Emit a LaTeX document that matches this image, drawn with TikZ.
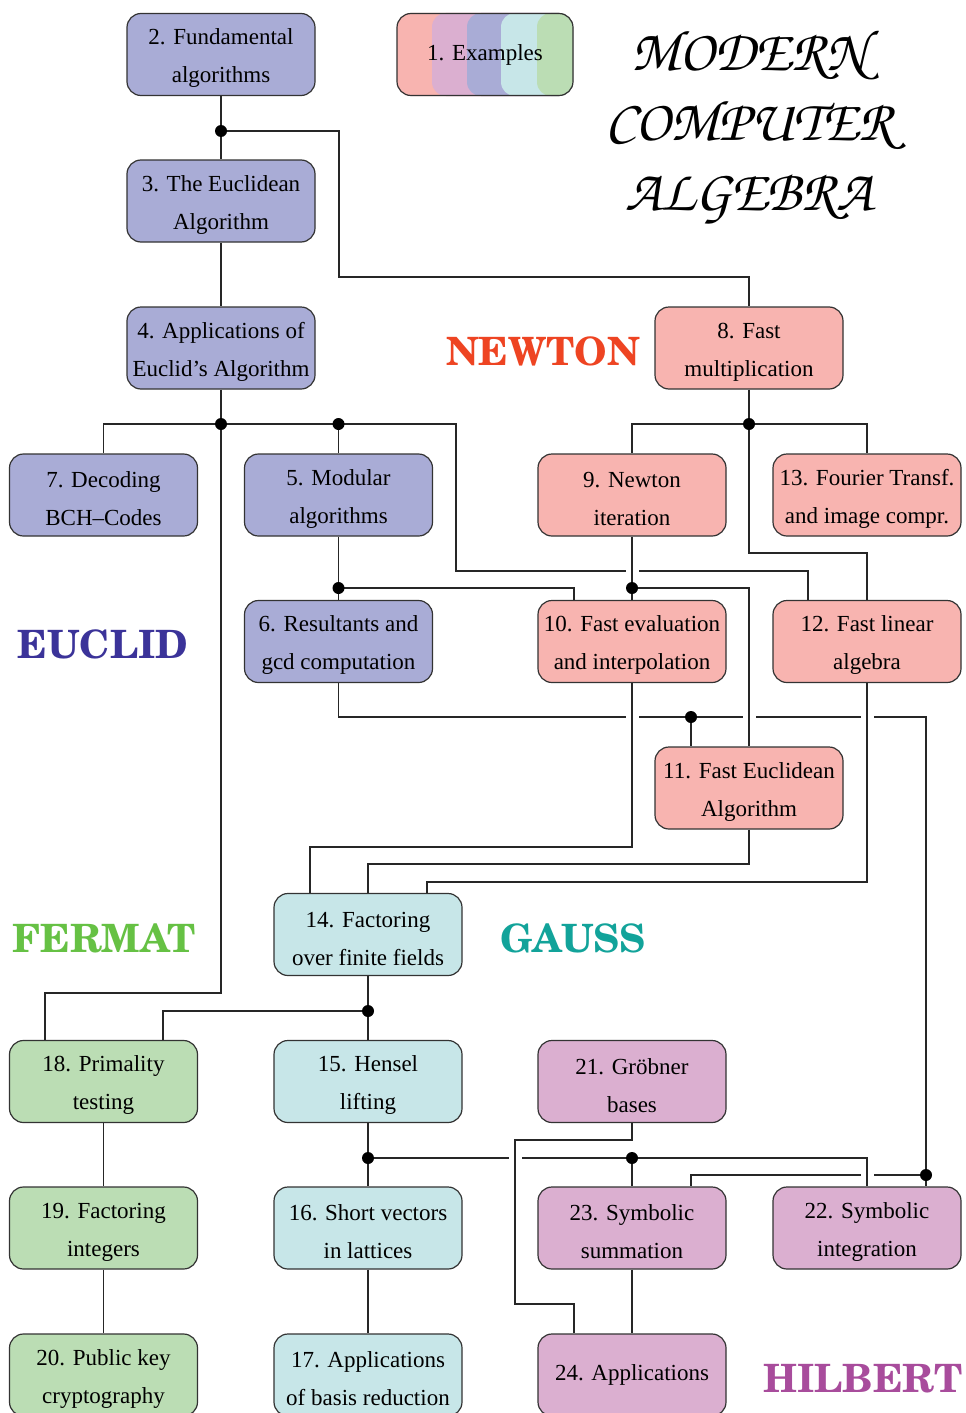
\documentclass[tikz,border=0pt]{standalone}
\usepackage[T1]{fontenc}
\usepackage{fontspec}
\setmainfont{Liberation Serif}
\usetikzlibrary{calc}
\newcommand\mytitlefont{\fontencoding{T1}\fontfamily{pzc}\fontseries{mb}\fontshape{it}\fontsize{58}{70}\selectfont}
\newcommand\mylabfont{\fontencoding{T1}\fontfamily{pnc}\fontseries{b}\fontshape{n}\fontsize{39}{48}\selectfont}
\newcommand\myup{\rule{0pt}{23.5pt}}
\definecolor{eucl}{RGB}{169,172,214}
\definecolor{newt}{RGB}{248,180,176}
\definecolor{gaus}{RGB}{199,230,232}
\definecolor{ferm}{RGB}{187,221,180}
\definecolor{hilb}{RGB}{219,175,208}
\definecolor{eucltxt}{RGB}{59,51,153}
\definecolor{newttxt}{RGB}{238,68,34}
\definecolor{fermtxt}{RGB}{102,193,68}
\definecolor{gaustxt}{RGB}{18,163,154}
\definecolor{hilbtxt}{RGB}{168,76,156}
\newcommand\myhop[2]{\fill[white] (#1-6.5,#2-3) rectangle (#1+6.5,#2+3); \draw[conn] (#1,#2-4) -- (#1,#2+4);}
\begin{document}
\begin{tikzpicture}[x=1pt,y=-1pt,
  box/.style={draw=black!80, line width=1.2pt, rounded corners=14pt, minimum width=188pt, minimum height=82pt, inner sep=3pt, align=center, font=\fontsize{23}{38}\selectfont},
  conn/.style={line width=1.1pt, draw=black!85},
  jdot/.style={circle, fill=black, inner sep=0pt, minimum size=12pt},
  lab/.style={font=\mylabfont}]
\useasboundingbox (0,0) rectangle (966,1413);
\fill[white] (0,0) rectangle (966,1413);

% Example box with stripes
\fill[newt, rounded corners=14pt] (397,13) rectangle (573,96);
\fill[hilb, rounded corners=14pt] (432,13) rectangle (573,96);
\fill[eucl, rounded corners=14pt] (467,13) rectangle (573,96);
\fill[gaus, rounded corners=14pt] (501,13) rectangle (573,96);
\fill[ferm, rounded corners=14pt] (537,13) rectangle (573,96);

% junction coordinates
\coordinate (j2) at (221,131);
\coordinate (j4) at (221,424);
\coordinate (j4b) at (338.5,424);
\coordinate (j8) at (749,424);
\coordinate (j5) at (338.5,588);
\coordinate (j9) at (632,588);
\coordinate (j6) at (691,717);
\coordinate (j22) at (926,1175);
\coordinate (j14) at (368,1011);
\coordinate (j15) at (368,1158);
\coordinate (j23) at (632,1158);

\node[box, fill=eucl] (n2) at (221,54.5) {\myup 2. Fundamental\\algorithms};
\node[box, fill=eucl] (n3) at (221,201) {\myup 3. The Euclidean\\Algorithm};
\node[box, fill=eucl] (n4) at (221,348) {\myup 4. Applications of\\Euclid's Algorithm};
\node[box, fill=newt] (n8) at (749,348) {\myup 8. Fast\\multiplication};
\node[box, fill=eucl] (n7) at (103.5,495) {\myup 7. Decoding\\BCH--Codes};
\node[box, fill=eucl] (n5) at (338.5,495) {\myup 5. Modular\\algorithms};
\node[box, fill=newt] (n9) at (632,495) {\myup 9. Newton\\iteration};
\node[box, fill=newt] (n13) at (867,495) {\myup 13. Fourier Transf.\\and image compr.};
\node[box, fill=eucl] (n6) at (338.5,641.5) {\myup 6. Resultants and\\gcd computation};
\node[box, fill=newt] (n10) at (632,641.5) {\myup 10. Fast evaluation\\and interpolation};
\node[box, fill=newt] (n12) at (867,641.5) {\myup 12. Fast linear\\algebra};
\node[box, fill=newt] (n11) at (749,788) {\myup 11. Fast Euclidean\\Algorithm};
\node[box, fill=gaus] (n14) at (368,934.5) {\myup 14. Factoring\\over finite fields};
\node[box, fill=ferm] (n18) at (103.5,1081.5) {\myup 18. Primality\\testing};
\node[box, fill=gaus] (n15) at (368,1081.5) {\myup 15. Hensel\\lifting};
\node[box, fill=hilb] (n21) at (632,1081.5) {\myup 21. Gröbner\\bases};
\node[box, fill=ferm] (n19) at (103.5,1228) {\myup 19. Factoring\\integers};
\node[box, fill=gaus] (n16) at (368,1228) {\myup 16. Short vectors\\in lattices};
\node[box, fill=hilb] (n23) at (632,1228) {\myup 23. Symbolic\\summation};
\node[box, fill=hilb] (n22) at (867,1228) {\myup 22. Symbolic\\integration};
\node[box, fill=ferm] (n20) at (103.5,1375) {\myup 20. Public key\\cryptography};
\node[box, fill=gaus] (n17) at (368,1375) {\myup 17. Applications\\of basis reduction};
\node[box, fill=hilb] (n24) at (632,1375) {24. Applications};
\node[box, minimum width=176pt] (n1) at (485,54.5) {1. Examples};

% connectors
\draw[conn] (n2.south) -- (n3.north);
\draw[conn] (j2) -| (339,277) -| (n8.north);
\draw[conn] (n3.south) -- (n4.north);
\draw[conn] (n4.south) -- (j4);
\draw[conn] (j4) -| (n7.north);
\draw[conn] (j4) -- (j4b) -- (n5.north);
\draw[conn] (j4b) -- (456,424) -- (456,571) -| ($(n12.north)+(-59,0)$);
\draw[conn] (j4) -- (221,993) -| ($(n18.north)+(-58.5,0)$);
\draw[conn] (n8.south) -- (j8);
\draw[conn] (j8) -| (n9.north);
\draw[conn] (j8) -| (n13.north);
\draw[conn] (j8) -- (749,553) -| (n12.north);
\draw[conn] (n5.south) -- (n6.north);
\draw[conn] (j5) -| ($(n10.north)+(-58,0)$);
\draw[conn] (n9.south) -- (n10.north);
\draw[conn] (j9) -| (n11.north);
\draw[conn] (n6.south) |- (j6);
\draw[conn] (j6) -- ($(n11.north)+(-58,0)$);
\draw[conn] (j6) -- (926,717) -- (j22);
\draw[conn] (j22) -- ($(n22.north)+(59,0)$);
\draw[conn] (j22) -| ($(n23.north)+(59,0)$);
\draw[conn] (n10.south) -- (632,847) -| ($(n14.north)+(-58,0)$);
\draw[conn] (n11.south) -- (749,864) -| (n14.north);
\draw[conn] (n12.south) -- (867,882) -| ($(n14.north)+(59,0)$);
\draw[conn] (n14.south) -- (n15.north);
\draw[conn] (j14) -| ($(n18.north)+(59.5,0)$);
\draw[conn] (n15.south) -- (n16.north);
\draw[conn] (j15) -- (j23) -| (n22.north);
\draw[conn] (j23) -- (n23.north);
\draw[conn] (n21.south) -- (632,1140) -- (515,1140) -- (515,1304) -| ($(n24.north)+(-58,0)$);
\draw[conn] (n23.south) -- (n24.north);
\draw[conn] (n16.south) -- (n17.north);
\draw[conn] (n18.south) -- (n19.north);
\draw[conn] (n19.south) -- (n20.north);

% line hops
\myhop{632}{571}
\myhop{632}{717}
\myhop{749}{717}
\myhop{867}{717}
\myhop{515}{1158}
\myhop{867}{1175}

% junction dots
\foreach \j in {j2,j4,j4b,j8,j5,j9,j6,j22,j14,j15,j23} \node[jdot] at (\j) {};

% group labels
\node[lab, text=newttxt] (lnewton) at (543,352) {NEWTON};
\node[lab, text=eucltxt] (leuclid) at (103,645) {EUCLID};
\node[lab, text=fermtxt] (lfermat) at (104,939) {FERMAT};
\node[lab, text=gaustxt] (lgauss) at (573,939) {GAUSS};
\node[lab, text=hilbtxt] (lhilbert) at (863,1379) {HILBERT};

% title
\node[font=\mytitlefont, align=center] (title) at (749,127) {MODERN\\COMPUTER\\ALGEBRA};
\end{tikzpicture}
\end{document}
